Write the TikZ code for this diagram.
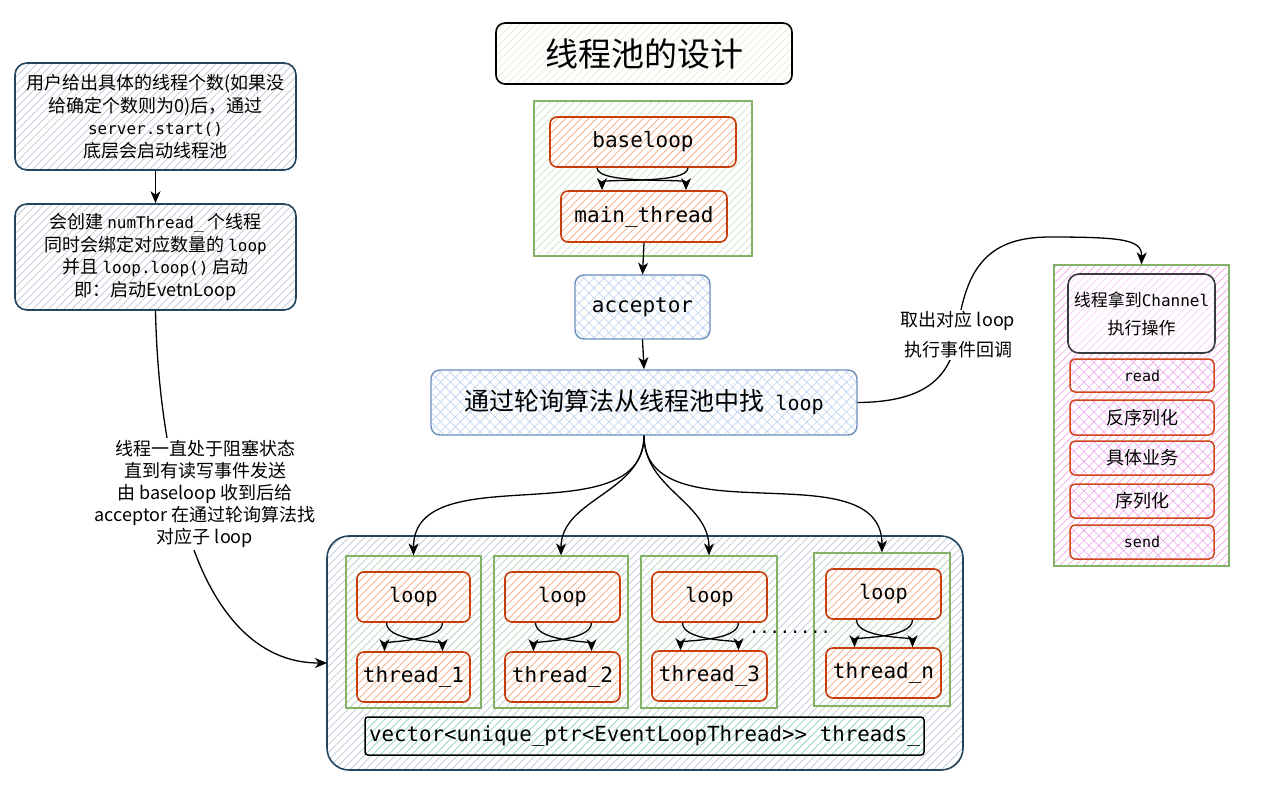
\documentclass[tikz,border=0pt]{standalone}
\usepackage{fontspec}
\setmainfont{Noto Sans CJK SC}
\newfontfamily\cmono{DejaVu Sans Mono}
\usetikzlibrary{patterns.meta,arrows.meta}

\definecolor{navyline}{HTML}{23445D}
\definecolor{grayhatch}{HTML}{B9C6D2}
\definecolor{greenline}{HTML}{82B366}
\definecolor{greenhatch}{HTML}{C8E2C3}
\definecolor{orangeline}{HTML}{C93C0C}
\definecolor{orangehatch}{HTML}{F5A57A}
\definecolor{blueline}{HTML}{6C8EBF}
\definecolor{bluehatch}{HTML}{BCD2F0}
\definecolor{pinkhatch}{HTML}{EDA4EA}
\definecolor{pinkboxhatch}{HTML}{F0A5EE}
\definecolor{redline}{HTML}{D0451B}
\definecolor{charline}{HTML}{36393D}
\definecolor{chanhatch}{HTML}{F6D2F4}
\definecolor{minthatch}{HTML}{9FE3C4}
\definecolor{titlehatch}{HTML}{E6EACF}

\begin{document}
\begin{tikzpicture}[x=1pt,y=-1pt,
  lines/.style={pattern={Lines[angle=45,distance=5.5pt,line width=0.7pt]},pattern color=#1},
  cross/.style={pattern={Hatch[angle=45,distance=7pt,line width=0.6pt]},pattern color=#1},
  shape base/.style={inner sep=0pt,align=center,text=black},
  notebox/.style={shape base,draw=navyline,line width=1.6pt,rounded corners=12pt,lines=grayhatch,
    font=\fontsize{18}{22.5}\selectfont},
  poolbox/.style={shape base,draw=navyline,line width=1.6pt,rounded corners=22pt,lines=grayhatch},
  groupbox/.style={shape base,draw=greenline,line width=1.2pt,lines=greenhatch},
  loopbox/.style={shape base,draw=orangeline,line width=1.6pt,rounded corners=7pt,
    preaction={fill=white},lines=orangehatch},
  bluebox/.style={shape base,draw=blueline,line width=1.4pt,rounded corners=9pt,
    preaction={fill=white},cross=bluehatch},
  pinkgroup/.style={shape base,draw=greenline,line width=1.2pt,lines=pinkhatch},
  stagebox/.style={shape base,draw=redline,line width=1.5pt,rounded corners=5pt,
    preaction={fill=white},cross=pinkboxhatch,font=\fontsize{18}{22}\selectfont},
  chanbox/.style={shape base,draw=charline,line width=1.6pt,rounded corners=11pt,
    preaction={fill=white},lines=chanhatch,font=\fontsize{17}{28}\selectfont},
  titlebox/.style={shape base,draw=black,line width=1.6pt,rounded corners=9pt,
    preaction={fill=white},lines=titlehatch,font=\fontsize{33}{40}\selectfont},
  vecbox/.style={shape base,draw=black,line width=1.5pt,rounded corners=3pt,lines=minthatch,
    font=\fontsize{20.8}{24}\selectfont\cmono},
  codetext/.style={font=\fontsize{21}{25}\selectfont\cmono},
  looptext/.style={font=\fontsize{20}{24}\selectfont\cmono},
  notecode/.style={},
  edgelabel/.style={shape base,fill=white,inner sep=2pt},
  arr/.style={draw=black,line width=1.3pt,-{Stealth[length=12pt,width=10pt,inset=3.5pt]}},
  plain/.style={draw=black,line width=1.3pt}
]
\useasboundingbox (0,0) rectangle (1275,793);

% ---------- title ----------
\node[titlebox,minimum width=296,minimum height=61] (title) at (644,53.5) {线程池的设计};

% ---------- left notes ----------
\newcommand\notemono[1]{{\fontsize{16}{22.5}\selectfont\cmono #1}}
\node[notebox,minimum width=281,minimum height=107] (noteA) at (155.5,116.5)
  {用户给出具体的线程个数(如果没\\给确定个数则为0)后，通过\\
   \notemono{server.start()}\\底层会启动线程池};
\node[notebox,minimum width=281,minimum height=106] (noteB) at (155.5,257)
  {会创建 \notemono{numThread\_} 个线程\\
   同时会绑定对应数量的 \notemono{loop}\\
   并且 \notemono{loop.loop()} 启动\\
   即：启动EvetnLoop};
\draw[arr] (noteA.south) -- (noteB.north);

% ---------- main reactor ----------
\node[groupbox,minimum width=218,minimum height=155] (mainGroup) at (643,178.5) {};
\node[loopbox,codetext,minimum width=186,minimum height=50] (baseloop) at (643,142) {baseloop};
\node[loopbox,codetext,minimum width=166,minimum height=51] (mainth) at (644,216.5) {main\_thread};
\draw[arr] ([xshift=-46]baseloop.south) .. controls +(0,17) and +(0,-12) .. ([xshift=42]mainth.north);
\draw[arr] ([xshift=45]baseloop.south) .. controls +(0,17) and +(0,-12) .. ([xshift=-42]mainth.north);

\node[bluebox,codetext,minimum width=135,minimum height=64] (acceptor) at (642.5,307) {acceptor};
\node[bluebox,minimum width=426,minimum height=65,font=\fontsize{25}{28}\selectfont] (rr) at (644,402.5)
  {通过轮询算法从线程池中找\ \ {\fontsize{20}{28}\selectfont\cmono loop}};
\draw[arr] (mainth.south) -- (acceptor.north);
\draw[arr] (acceptor.south) -- (rr.north);

% ---------- sub reactor pool ----------
\node[poolbox,minimum width=636,minimum height=234] (pool) at (645,653) {};
\node[groupbox,minimum width=135,minimum height=152] (g1) at (413.5,632) {};
\node[groupbox,minimum width=134,minimum height=152] (g2) at (561,632) {};
\node[groupbox,minimum width=136,minimum height=152] (g3) at (709,632) {};
\node[groupbox,minimum width=136,minimum height=153] (g4) at (882,629.5) {};

\node[loopbox,looptext,minimum width=113,minimum height=50] (l1) at (413.5,597) {loop};
\node[loopbox,looptext,minimum width=115,minimum height=50] (l2) at (562.5,597) {loop};
\node[loopbox,looptext,minimum width=115,minimum height=50] (l3) at (709.5,597) {loop};
\node[loopbox,looptext,minimum width=115,minimum height=50] (l4) at (883.5,594) {loop};
\node[loopbox,codetext,minimum width=113,minimum height=50] (t1) at (413.5,677) {thread\_1};
\node[loopbox,codetext,minimum width=115,minimum height=50] (t2) at (562.5,677) {thread\_2};
\node[loopbox,codetext,minimum width=115,minimum height=50] (t3) at (709.5,676) {thread\_3};
\node[loopbox,codetext,minimum width=115,minimum height=50] (t4) at (883.5,673) {thread\_n};

\foreach \i in {1,...,4} {
  \draw[arr] ([xshift=-27]l\i.south) .. controls +(0,19) and +(0,-10) .. ([xshift=29]t\i.north);
  \draw[arr] ([xshift=29]l\i.south) .. controls +(0,19) and +(0,-10) .. ([xshift=-29]t\i.north);
}

\node[anchor=base,inner sep=0pt,font=\fontsize{17}{20}\selectfont\cmono] (dots) at (790,633) {........};

\node[vecbox,minimum width=559,minimum height=38] (vec) at (644.5,736)
  {vector<unique\_ptr<EventLoopThread>{}> threads\_};

\foreach \g in {g1,g2,g3,g4}
  \draw[arr] (rr.south) to[out=-90,in=90] (\g.north);

% ---------- worker stages ----------
\node[pinkgroup,minimum width=175,minimum height=301] (stages) at (1141.5,415.5) {};
\node[chanbox,minimum width=147,minimum height=79] (chan) at (1141.5,313.5)
  {线程拿到{\fontsize{16}{28}\selectfont\cmono Channel}\\执行操作};
\node[stagebox,minimum width=144,minimum height=33,font=\fontsize{15}{18}\selectfont\cmono] (sread) at (1142,375.5) {read};
\node[stagebox,minimum width=144,minimum height=35] (sdeser) at (1142,417.5) {反序列化};
\node[stagebox,minimum width=144,minimum height=34] (sbiz) at (1142,458) {具体业务};
\node[stagebox,minimum width=144,minimum height=34] (sser) at (1142,501) {序列化};
\node[stagebox,minimum width=144,minimum height=34,font=\fontsize{15}{18}\selectfont\cmono] (ssend) at (1142,542) {send};

% ---------- labelled connectors ----------
\coordinate (poolIn) at (327,663);
\draw[arr] (noteB.south) .. controls (157,380) and (165,440) .. (180,500)
  .. controls (192,560) and (230,663) .. (poolIn);
\node[edgelabel,font=\fontsize{18}{22}\selectfont] (leftLbl) at (205,494)
  {线程一直处于阻塞状态\\直到有读写事件发送\\由 baseloop 收到后给\\acceptor 在通过轮询算法找\\对应子 loop};

\draw[arr] (rr.east) .. controls (915,402) and (950,385) .. (957,335)
  .. controls (965,265) and (990,237) .. (1050,237)
  .. controls (1125,237) and (1142,240) .. (stages.north);
\node[edgelabel,font=\fontsize{18}{30}\selectfont] (rightLbl) at (958,335)
  {取出对应 loop\\执行事件回调};

\end{tikzpicture}
\end{document}
